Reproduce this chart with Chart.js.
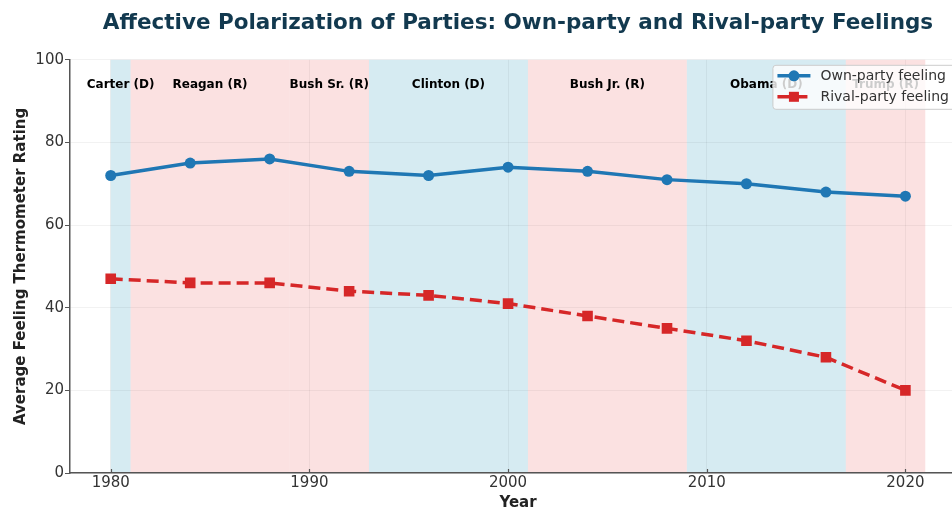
<!DOCTYPE html>
<html>
<head>
<meta charset="utf-8">
<script src="https://cdn.jsdelivr.net/npm/chart.js@4.4.1/dist/chart.umd.min.js"></script>
<style>
  html, body { margin: 0; padding: 0; overflow: hidden; background: #fff; }
  #wrap { width: 1036px; height: 520px; }
</style>
</head>
<body>
<div id="wrap"><canvas id="polarChart" width="1036" height="520"></canvas></div>
<script>
// survey years and mean thermometer ratings
const years = [1980, 1984, 1988, 1992, 1996, 2000, 2004, 2008, 2012, 2016, 2020];
const ownParty = [72, 75, 76, 73, 72, 74, 73, 71, 70, 68, 67];
const rivalParty = [47, 46, 46, 44, 43, 41, 38, 35, 32, 28, 20];

// presidencies shaded behind the lines
const presidents = ['Carter (D)', 'Reagan (R)', 'Bush Sr. (R)', 'Clinton (D)', 'Bush Jr. (R)', 'Obama (D)', 'Trump (R)'];
const termStart = [1980, 1981, 1989, 1993, 2001, 2009, 2017];
const termEnd = [1981, 1989, 1993, 2001, 2009, 2017, 2021];
const termParty = ['D', 'R', 'R', 'D', 'R', 'D', 'R'];

const xTicks = [1980, 1990, 2000, 2010, 2020];
const yTicks = [0, 20, 40, 60, 80, 100];

const BLUE = '#1f77b4';
const RED = '#d62728';
const AXIS = '#555555';

Chart.defaults.font.family = 'DejaVu Sans';
Chart.defaults.color = '#333';

const bandPlugin = {
  id: 'bands',
  beforeDraw(chart) {
    const { ctx, chartArea: a, scales: { x, y } } = chart;
    ctx.save();
    presidents.forEach((name, i) => {
      const x0 = x.getPixelForValue(termStart[i]);
      const x1 = x.getPixelForValue(termEnd[i]);
      ctx.fillStyle = termParty[i] === 'D' ? 'rgba(173,216,230,0.5)' : 'rgba(240,128,128,0.24)';
      ctx.fillRect(x0, a.top, x1 - x0, a.bottom - a.top);
    });
    ctx.fillStyle = '#000';
    ctx.font = 'bold 12px "DejaVu Sans"';
    ctx.textAlign = 'center';
    ctx.textBaseline = 'middle';
    presidents.forEach((name, i) => {
      const mid = (termStart[i] + termEnd[i]) / 2;
      ctx.fillText(name, x.getPixelForValue(mid), y.getPixelForValue(94));
    });
    ctx.restore();
  },
  afterDraw(chart) {
    const { ctx, chartArea: a, scales: { x } } = chart;
    ctx.save();
    // inward ticks on the year axis
    ctx.strokeStyle = AXIS;
    ctx.lineWidth = 1.2;
    xTicks.forEach(t => {
      const px = Math.round(x.getPixelForValue(t)) + 0.5;
      ctx.beginPath();
      ctx.moveTo(px, a.bottom);
      ctx.lineTo(px, a.bottom - 4);
      ctx.stroke();
    });

    // legend box in the upper right of the plot
    const sets = chart.data.datasets;
    ctx.font = '14px "DejaVu Sans"';
    const textW = Math.max(...sets.map(d => ctx.measureText(d.label).width));
    const boxW = 48 + textW + 10;
    const boxH = 44;
    const bx = a.right - 7 - boxW;
    const by = a.top + 5;
    ctx.fillStyle = 'rgba(255,255,255,0.8)';
    ctx.strokeStyle = '#cccccc';
    ctx.lineWidth = 1;
    ctx.beginPath();
    ctx.roundRect(bx + 0.5, by + 0.5, boxW, boxH, 3);
    ctx.fill();
    ctx.stroke();
    sets.forEach((d, i) => {
      const ly = by + 11 + i * 21;
      ctx.strokeStyle = d.borderColor;
      ctx.lineWidth = d.borderWidth;
      ctx.setLineDash(d.borderDash || []);
      ctx.beginPath();
      ctx.moveTo(bx + 5, ly);
      ctx.lineTo(bx + 38, ly);
      ctx.stroke();
      ctx.setLineDash([]);
      ctx.fillStyle = d.borderColor;
      if (d.pointStyle === 'rect') {
        ctx.fillRect(bx + 21.5 - 5, ly - 5, 10, 10);
      } else {
        ctx.beginPath();
        ctx.arc(bx + 21.5, ly, 5.5, 0, Math.PI * 2);
        ctx.fill();
      }
      ctx.fillStyle = '#333';
      ctx.textAlign = 'left';
      ctx.textBaseline = 'middle';
      ctx.fillText(d.label, bx + 48, ly + 1);
    });
    ctx.restore();
  }
};

const ctx = document.getElementById('polarChart').getContext('2d');
const polarChart = new Chart(ctx, {
  type: 'line',
  data: {
    datasets: [{
      label: 'Own-party feeling',
      data: years.map((yr, i) => ({ x: yr, y: ownParty[i] })),
      borderColor: BLUE,
      backgroundColor: BLUE,
      borderWidth: 3.5,
      pointStyle: 'circle',
      pointRadius: 5.5,
      pointBorderWidth: 0,
      fill: false
    }, {
      label: 'Rival-party feeling',
      data: years.map((yr, i) => ({ x: yr, y: rivalParty[i] })),
      borderColor: RED,
      backgroundColor: RED,
      borderWidth: 3.5,
      borderDash: [12, 6],
      pointStyle: 'rect',
      pointRadius: 7.5,
      pointBorderWidth: 0,
      fill: false
    }]
  },
  plugins: [bandPlugin],
  options: {
    responsive: false,
    devicePixelRatio: 1,
    animation: false,
    layout: { padding: 0 },
    plugins: {
      legend: { display: false },
      tooltip: { enabled: false },
      title: {
        display: true,
        text: 'Affective Polarization of Parties: Own-party and Rival-party Feelings',
        color: '#12394f',
        font: { size: 21.5, weight: 'bold' },
        padding: { top: 11, bottom: 23 }
      }
    },
    scales: {
      x: {
        type: 'linear',
        min: 1977.95,
        max: 2023.05,
        afterBuildTicks: s => { s.ticks = xTicks.map(v => ({ value: v })); },
        afterFit: s => { s.height = 47; },
        ticks: { font: { size: 15 }, color: '#333', padding: 1, maxRotation: 0, callback: v => String(v) },
        grid: { color: 'rgba(0,0,0,0.05)', drawTicks: false },
        border: { color: AXIS, width: 1.5 },
        title: { display: true, text: 'Year', color: '#222', font: { size: 15, weight: 'bold' }, padding: { top: 0, bottom: 8 } }
      },
      y: {
        min: 0,
        max: 100,
        afterBuildTicks: s => { s.ticks = yTicks.map(v => ({ value: v })); },
        afterFit: s => { s.width = 70; },
        ticks: { font: { size: 15 }, color: '#333', padding: 1 },
        grid: { color: 'rgba(0,0,0,0.05)', tickColor: AXIS, tickLength: 5 },
        border: { color: AXIS, width: 1.5 },
        title: { display: true, text: 'Average Feeling Thermometer Rating', color: '#222', font: { size: 15, weight: 'bold' }, padding: { top: 12 } }
      },
      // empty right-hand margin so the title centres over the plot
      spacer: {
        type: 'linear',
        position: 'right',
        afterFit: s => { s.width = 70; },
        ticks: { display: false },
        grid: { display: false },
        border: { display: false }
      }
    }
  }
});
</script>
</body>
</html>
